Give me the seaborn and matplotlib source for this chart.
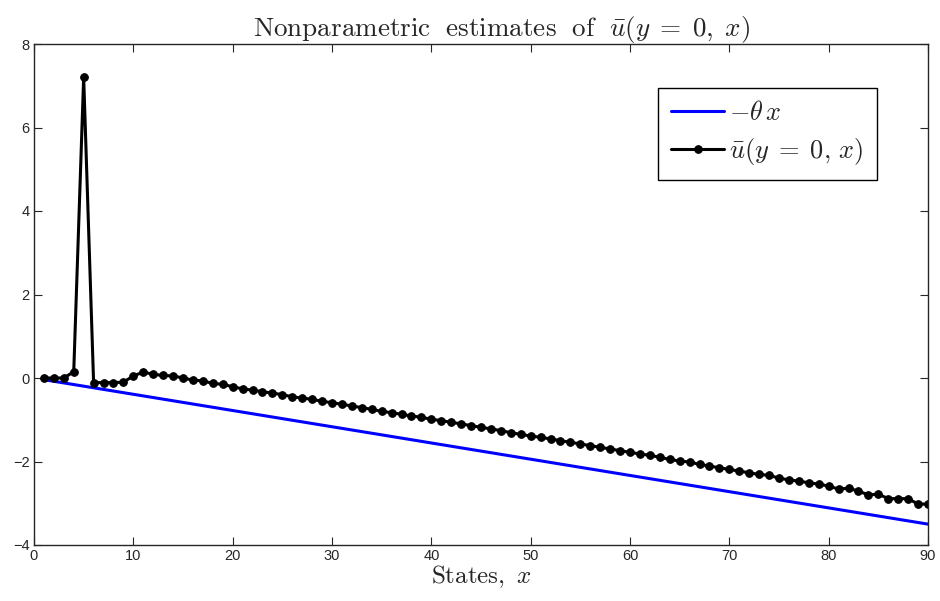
import pandas as pd
import seaborn as sns
import matplotlib.pyplot as plt

# states x = 1..90
states = list(range(1, 91))

# nonparametric estimate of u-bar(y=0, x)
u_bar = [0.00, 0.00, 0.00, 0.15, 7.20, -0.11, -0.11, -0.11, -0.10, 0.05,
         0.14, 0.09, 0.06, 0.05, 0.00, -0.05, -0.07, -0.13, -0.15, -0.21,
         -0.26, -0.29, -0.33, -0.36, -0.40, -0.45, -0.48, -0.51, -0.56, -0.59,
         -0.63, -0.67, -0.71, -0.75, -0.80, -0.83, -0.87, -0.91, -0.94, -0.99,
         -1.02, -1.06, -1.10, -1.14, -1.18, -1.22, -1.26, -1.31, -1.35, -1.39,
         -1.42, -1.46, -1.50, -1.54, -1.58, -1.62, -1.66, -1.70, -1.74, -1.78,
         -1.82, -1.85, -1.90, -1.95, -1.99, -2.01, -2.07, -2.11, -2.15, -2.19,
         -2.23, -2.27, -2.31, -2.33, -2.40, -2.44, -2.47, -2.51, -2.54, -2.59,
         -2.66, -2.64, -2.71, -2.80, -2.78, -2.89, -2.89, -2.89, -3.02, -3.02]

# straight line -theta*x (end points)
line_x = [1, 90]
line_y = [-0.04, -3.50]

x_ticks = [0, 10, 20, 30, 40, 50, 60, 70, 80, 90]
y_ticks = [-4, -2, 0, 2, 4, 6, 8]

sns.set_style('ticks')
plt.rcParams['font.family'] = ['Liberation Sans', 'DejaVu Sans']
plt.rcParams['mathtext.fontset'] = 'cm'

df = pd.DataFrame({'x': states, 'u': u_bar})
df_line = pd.DataFrame({'x': line_x, 'y': line_y})

fig = plt.figure(figsize=(9.4, 6.01), dpi=100)
ax = fig.add_axes([34 / 940, 1 - 545 / 601, 894 / 940, 501 / 601])

sns.lineplot(data=df_line, x='x', y='y', color='#0000ff', linewidth=2.2,
             label=r'$-\theta\, x$', ax=ax)
sns.lineplot(data=df, x='x', y='u', color='black', linewidth=2.2, marker='o',
             markersize=5.5, markeredgecolor='black',
             label=r'$\bar{u}(y\;=\;0,\,x)$', ax=ax)

ax.set_xlim(0, 90)
ax.set_ylim(-4, 8)
ax.set_xticks(x_ticks)
ax.set_yticks(y_ticks)
ax.tick_params(direction='in', length=6, width=0.8, top=True, right=True,
               labelsize=10.5, pad=3)
for s in ax.spines.values():
    s.set_linewidth(1)

ax.set_title(r'$\mathrm{Nonparametric\ \ estimates\ \ of\ \ }\bar{u}(y\;=\;0,\;x)$',
             fontsize=19.5, x=0.523, pad=6)
ax.set_xlabel(r'$\mathrm{States,}\ x$', fontsize=18, labelpad=0)
ax.set_ylabel('')

leg = ax.legend(loc='upper right', bbox_to_anchor=(0.943, 0.912), borderaxespad=0,
                fontsize=19, frameon=True, fancybox=False, framealpha=1,
                edgecolor='black', handlelength=2.0, handletextpad=0.2,
                borderpad=0.5, labelspacing=0.4)
leg.get_frame().set_linewidth(1)

fig.savefig('out.png', dpi=100)
